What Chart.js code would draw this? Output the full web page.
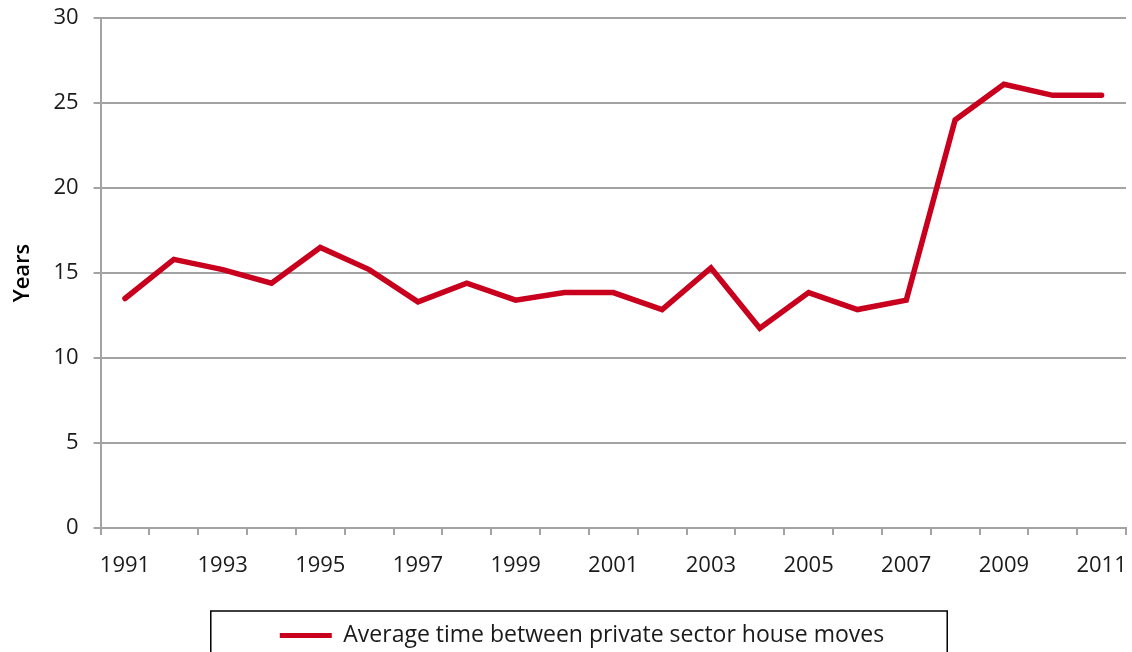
<!DOCTYPE html>
<html>
<head>
<meta charset="utf-8">
<script src="https://cdn.jsdelivr.net/npm/chart.js@4/dist/chart.umd.min.js"></script>
<style>
  html, body { margin: 0; padding: 0; background: #fff; }
  #wrap { width: 1132px; height: 652px; position: relative; }
</style>
</head>
<body>
<div id="wrap"><canvas id="c" width="1132" height="652"></canvas></div>
<script>
const years = ["1991","1992","1993","1994","1995","1996","1997","1998","1999","2000","2001","2002","2003","2004","2005","2006","2007","2008","2009","2010","2011"];
const avgTimeBetweenMoves = [13.5,15.8,15.2,14.4,16.5,15.2,13.3,14.4,13.4,13.85,13.85,12.85,15.3,11.75,13.85,12.85,13.4,24.0,26.1,25.45,25.45];
const yTicks = [0,5,10,15,20,25,30];
const seriesName = "Average time between private sector house moves";
const yTitle = "Years";

const FONT = "'Open Sans', 'Noto Sans', sans-serif";
const RED = "#c8001e";
const GRID = "#a3a3a3";
const TXT = "#1a1a1a";

const legendShift = {
  id: 'legendShift',
  afterLayout(chart) {
    const lg = chart.legend;
    if (lg) { lg.left += 13; lg.right += 13; }
  }
};

const legendBorder = {
  id: 'legendBorder',
  afterDraw(chart) {
    const lg = chart.legend;
    if (!lg || !lg.legendHitBoxes || !lg.legendHitBoxes.length) return;
    const hb = lg.legendHitBoxes[0];
    const ctx = chart.ctx;
    ctx.save();
    ctx.strokeStyle = "#000";
    ctx.lineWidth = 1.5;
    const left = hb.left - 69, right = hb.left + hb.width + 63;
    const top = lg.top, bottom = lg.top + 80;
    ctx.strokeRect(left, top, right - left, bottom - top);
    ctx.restore();
  }
};

new Chart(document.getElementById('c'), {
  type: 'line',
  data: {
    labels: years,
    datasets: [{
      label: seriesName,
      data: avgTimeBetweenMoves,
      borderColor: RED,
      backgroundColor: RED,
      borderWidth: 5.5,
      pointRadius: 0,
      pointHoverRadius: 0,
      tension: 0,
      borderJoinStyle: 'miter',
      borderCapStyle: 'round'
    }]
  },
  options: {
    responsive: false,
    animation: false,
    devicePixelRatio: 1,
    layout: { padding: { left: 6, right: 0, top: 0, bottom: -5 } },
    plugins: {
      tooltip: { enabled: false },
      legend: {
        position: 'bottom',
        labels: {
          font: { family: FONT, size: 23 },
          color: TXT,
          boxWidth: 52,
          boxHeight: 5,
          padding: 13,
          generateLabels(chart) {
            const items = Chart.defaults.plugins.legend.labels.generateLabels(chart);
            items.forEach(it => { it.lineWidth = 0; it.fillStyle = RED; it.strokeStyle = RED; });
            return items;
          }
        }
      }
    },
    scales: {
      x: {
        type: 'category',
        offset: true,
        afterFit(axis) { axis.height = 83; axis.paddingRight = 6; axis.paddingLeft = 0; },
        grid: {
          offset: true,
          drawOnChartArea: false,
          drawTicks: true,
          tickLength: 7,
          color: GRID,
          lineWidth: 2
        },
        border: { display: true, color: GRID, width: 2 },
        ticks: {
          autoSkip: false,
          maxRotation: 0,
          padding: 18,
          color: TXT,
          font: { family: FONT, size: 22 },
          callback(v, i) { return i % 2 === 0 ? years[i] : ''; }
        }
      },
      y: {
        min: 0,
        max: 30,
        afterBuildTicks(axis) { axis.ticks = yTicks.map(v => ({ value: v })); },
        afterFit(axis) { axis.paddingTop = 18; axis.paddingBottom = 0; },
        grid: {
          color: GRID,
          lineWidth: 2,
          drawTicks: true,
          tickLength: 7
        },
        border: { display: true, color: GRID, width: 2 },
        ticks: {
          padding: 15,
          color: TXT,
          font: { family: FONT, size: 22 }
        },
        title: {
          display: true,
          text: yTitle,
          color: '#000',
          font: { family: FONT, size: 22, weight: '600' },
          padding: { top: 4, bottom: 2 }
        }
      }
    }
  },
  plugins: [legendShift, legendBorder]
});
</script>
</body>
</html>
